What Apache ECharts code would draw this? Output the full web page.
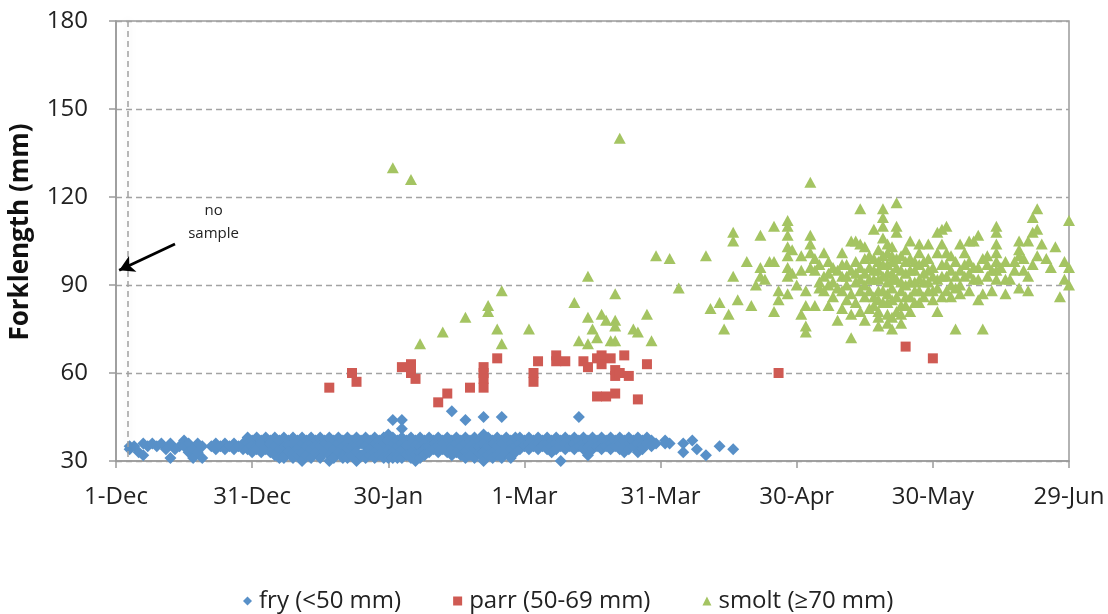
<!DOCTYPE html>
<html><head><meta charset="utf-8">
<script src="https://cdn.jsdelivr.net/npm/echarts@6/dist/echarts.min.js"></script>
<style>html,body{margin:0;padding:0;background:#fff}#chart{width:1108px;height:614px}</style>
</head><body><div id="chart"></div>
<script>
// x = days since 1-Dec
const xTickLabels = ['1-Dec','31-Dec','30-Jan','1-Mar','31-Mar','30-Apr','30-May','29-Jun'];
const yTicks = [30, 60, 90, 120, 150, 180];
const seriesNames = ['fry (<50 mm)', 'parr (50-69 mm)', 'smolt (\u226570 mm)'];

// fry: [day, [forklengths]]
const fryRows = [
 [3,[35,34]],[4,[35]],[5,[33]],[6,[36,32]],[7,[35]],[8,[36]],[9,[35]],[10,[36]],[11,[34]],[12,[36,31]],
 [13,[34]],[14,[35]],[15,[37,35]],[16,[36,33]],[17,[34,31]],[18,[36,33]],[19,[35,31]],
 [21,[35]],[22,[36,34]],[23,[35]],[24,[36,34]],[25,[35]],[26,[36,34]],[27,[35]],[28,[36,34]],
 [29,[38,36,34]],[30,[37,35,33]],[31,[38,35,34]],[32,[37,36,33]],[33,[38,35,34]],[34,[37,36,33]],[35,[38,35,32]],[36,[37,34,31]],
 [37,[38,35,32,31]],[38,[37,35,33]],[39,[38,36,33,31]],[40,[37,34,32]],[41,[38,36,33,30]],[42,[37,35,32]],
 [43,[38,36,34,31]],[44,[37,35,33]],[45,[38,35,32,31]],[46,[37,36,33]],[47,[38,35,32,30]],[48,[37,34,31]],
 [49,[38,36,33]],[50,[37,35,32,31]],[51,[38,36,34,31]],[52,[37,35,32]],[53,[38,35,33,30]],[54,[37,36,32]],
 [55,[38,35,33,31]],[56,[37,34,32]],[57,[38,36,33,31]],[58,[37,35,32]],[59,[38,36,33,31]],[60,[39,37,34,32,31]],
 [61,[38,36,33,31]],[62,[37,35,32,31]],[63,[38,36,34,31]],[64,[37,35,32]],[65,[38,36,33,31]],[66,[37,35,32,30]],
 [67,[38,35,33,31]],[68,[37,36,34,32]],[69,[38,35,33]],[70,[37,36,34]],[71,[38,35,33]],[72,[37,36,34]],
 [73,[38,35,33]],[74,[37,35,34,32]],[75,[38,36,33]],[76,[37,35,32]],[77,[38,36,33,31]],[78,[37,35,32]],
 [79,[38,36,34,31]],[80,[37,35,33]],[81,[39,36,33,31,30]],[82,[38,35,32]],[83,[37,36,33,31]],[84,[38,35,32]],
 [85,[37,36,33,31]],[86,[38,35,33]],[87,[37,36,34,31]],[88,[38,35,33]],
 [89,[38,36,34]],[90,[37,35]],[91,[38,36,34]],[92,[37,35]],[93,[38,36,34]],[94,[37,35]],[95,[38,36,34]],
 [96,[37,35,33]],[97,[38,36,34]],[98,[37,35,30]],[99,[38,36,34]],[100,[37,35]],[101,[38,36,34]],[102,[37,35]],
 [103,[38,36,34]],[104,[37,35,32]],[105,[38,36,34]],[106,[37,35]],[107,[38,36,34]],[108,[37,35]],[109,[38,36,34]],
 [110,[37,35]],[111,[38,36,34]],[112,[37,35,33]],[113,[38,36,34]],[114,[37,35]],[115,[38,36,33]],[116,[37,35,34]],
 [117,[38,36]],[118,[37,35]],[119,[36]],[121,[37,36]],[122,[36]],
 [125,[36,33]],[127,[37]],[128,[34]],[130,[32]],[133,[35]],[136,[34]],
 [61,[44]],[63,[44,41]],[74,[47]],[77,[44]],[81,[45]],[85,[45]],[102,[45]]
];

// parr: [day, forklength]
const parrPoints = [
 [47,55],[52,60],[53,57],[63,62],[65,63],[65,60],[66,58],[71,50],[73,53],[78,55],
 [81,62],[81,60],[81,58],[81,55],[84,65],[92,60],[92,57],[93,64],[97,66],[97,64],
 [99,64],[103,64],[104,62],[106,65],[107,66],[107,63],[109,65],[110,61],[110,59],[111,60],
 [112,66],[113,59],[106,52],[108,52],[110,53],[115,51],[117,63],[146,60],[174,69],[180,65]
];

// smolt: [day, forklength]
const smoltPoints = [
 [61,130],[65,126],[111,140],[67,70],[72,74],[77,79],[82,83],[82,81],[85,88],[84,75],[85,70],[91,75],
 [101,84],[104,93],[104,79],[102,71],[104,70],[105,75],[106,72],[107,80],[108,78],[110,87],[110,78],[110,76],
 [109,71],[110,71],[114,75],[115,74],[117,80],[118,71],[119,100],[122,99],[124,89],
 [130,100],[131,82],[133,84],[134,75],[135,80],[136,108],[136,105],[136,93],[137,85],[139,98],[140,83],[141,90],
 [142,107],[142,96],[142,93],[143,92],[144,98],[145,98],[145,110],[145,81],[146,88],[146,85],
 [148,112],[148,110],[148,107],[148,103],[148,100],[148,96],[148,93],[148,87],[149,102],[149,94],
 [151,100],[151,80],[152,76],[152,74],[152,83],[153,125],[153,107],[153,104],[153,101],[153,96],
 [154,83],[155,91],[155,89],[156,93],[157,98],[157,83],[158,96],[159,78],[160,101],[160,93],[161,85],[162,72],
 [162,105],[163,105],[162,80],[163,98],[164,116],[164,104],[165,103],[165,86],[165,78],[166,96],[167,109],
 [167,92],[168,76],[168,102],[168,98],[168,95],[168,92],[168,88],[168,85],[168,81],
 [169,116],[169,113],[169,110],[169,106],[170,104],[170,101],[170,97],[170,94],[170,91],[170,87],[170,84],[170,80],
 [171,75],[171,103],[171,98],[171,94],[171,89],[171,85],[172,118],[172,110],[172,108],[173,88],[173,83],[173,77],
 [174,102],[174,98],[174,94],[175,105],[175,91],[175,86],[176,98],[176,95],[177,104],[177,84],[177,92],
 [178,98],[179,104],[179,95],[180,88],[180,85],[181,101],[181,108],[182,109],[181,81],[182,97],[182,104],
 [183,110],[183,93],[184,100],[185,75],[185,89],[186,104],[186,95],[187,93],[187,101],[188,105],[188,98],
 [189,92],[189,105],[190,85],[190,107],[191,87],[191,75],[192,97],[192,100],
 [194,110],[194,108],[194,104],[194,101],[194,98],[194,95],[194,92],[196,98],[196,92],[196,87],
 [198,98],[199,102],[199,105],[199,100],[199,89],[200,95],[201,88],[201,105],[202,113],[202,108],[202,97],
 [203,116],[203,109],[204,104],[206,96],[208,86],[209,98],[209,92],[210,112],[210,96],[210,90],
 [155,97],[156,88],[157,90],[158,86],[159,89],[160,82],[161,97],[163,91],[164,88],[165,94],[166,82],
 [167,99],[167,86],[169,93],[172,92],[172,96],[173,100],[174,90],[175,81],[176,88],[177,97],[178,91],
 [179,88],[180,93],[183,97],[184,90],[185,98],[186,87],[188,94],[190,96],[193,88],
 [150,90],[151,95],[152,88],[154,95],[154,99],[156,101],[157,94],[158,91],[159,95],[160,88],[160,97],
 [161,90],[161,93],[162,95],[162,87],[163,84],[163,94],[164,92],[164,96],[164,81],[165,90],[165,99],
 [166,88],[166,92],[166,100],[167,95],[167,83],[168,79],[169,84],[169,88],[169,97],[169,100],[170,77],
 [171,79],[171,92],[171,100],[172,86],[172,81],[172,99],[173,91],[173,95],[173,80],[174,86],[174,83],
 [175,95],[175,99],[176,91],[176,84],[177,88],[177,101],[178,94],[178,86],[179,91],[179,99],[180,96],
 [181,92],[181,89],[182,86],[182,93],[183,88],[183,101],[184,95],[184,86],[185,93],[186,90],[187,97],
 [188,88],[189,96],[190,92],[191,99],[192,93],[193,95],[195,96],[197,92],[198,95],[200,99],[201,93],
 [203,100],[205,99],[207,103]
];

// annotation
const noSampleDay = 2.6;
const noSampleText = 'no\nsample';
const noSampleTextAt = [21.5, 111.5];
const arrowFrom = [13, 104];
const arrowTo = [0.7, 95];

const fryPoints = fryRows.flatMap(([d, vs]) => vs.map(v => [d, v]));

const FONT = '"Open Sans", "Noto Sans", sans-serif';
const colors = ['#5890C8', '#CF5A53', '#A4C462'];
const gridGrey = '#a3a3a3';

const chart = echarts.init(document.getElementById('chart'), null, {renderer: 'canvas'});
chart.setOption({
  animation: false,
  backgroundColor: '#fff',
  textStyle: {fontFamily: FONT},
  grid: {left: 114, right: 39, top: 21, bottom: 153, show: true, borderColor: '#9a9a9a', borderWidth: 1.5},
  legend: {
    data: [
      {name: seriesNames[0], icon: 'diamond'},
      {name: seriesNames[1], icon: 'rect'},
      {name: seriesNames[2], icon: 'triangle'}
    ],
    left: 238, top: 584, itemWidth: 9, itemHeight: 9, itemGap: 52,
    textStyle: {fontSize: 24, color: '#222', fontFamily: FONT, padding: [0,0,0,2]}
  },
  xAxis: {
    type: 'value', min: 0, max: 210, interval: 30,
    axisLine: {show: true, lineStyle: {color: '#9a9a9a', width: 1.5}},
    axisTick: {show: true, inside: false, length: 7, lineStyle: {color: '#9a9a9a', width: 1.5}},
    splitLine: {show: false},
    axisLabel: {margin: 24, fontSize: 24, color: '#222', fontFamily: FONT,
      formatter: v => xTickLabels[Math.round(v / 30)] || ''}
  },
  yAxis: {
    type: 'value', min: yTicks[0], max: yTicks[yTicks.length-1], interval: 30,
    name: 'Forklength (mm)', nameLocation: 'middle', nameGap: 82,
    nameTextStyle: {fontSize: 26, fontWeight: 'bold', color: '#111', fontFamily: FONT, padding: [0,0,0,18]},
    axisLine: {show: true, lineStyle: {color: '#9a9a9a', width: 1.5}},
    axisTick: {show: true, length: 7, lineStyle: {color: '#9a9a9a', width: 1.5}},
    splitLine: {show: true, lineStyle: {color: gridGrey, type: [6, 4], width: 1.4}},
    axisLabel: {margin: 28, fontSize: 24, color: '#222', fontFamily: FONT}
  },
  series: [
    {name: seriesNames[0], type: 'scatter', data: fryPoints, symbol: 'diamond', symbolSize: [12, 12],
     itemStyle: {color: colors[0], opacity: 1}},
    {name: seriesNames[1], type: 'scatter', data: parrPoints, symbol: 'rect', symbolSize: [10, 10],
     itemStyle: {color: colors[1], opacity: 1}},
    {name: seriesNames[2], type: 'scatter', data: smoltPoints, symbol: 'triangle', symbolSize: [12, 11],
     itemStyle: {color: colors[2], opacity: 1}},
    {name: 'annotation', type: 'scatter', data: [], silent: true,
     markLine: {
       silent: true, animation: false,
       data: [
         [{coord: [noSampleDay, 180], symbol: 'none', lineStyle: {color: '#a0a0a0', type: [6, 4], width: 1.5, shadowBlur: 8, shadowColor: 'rgba(0,0,0,0.18)'}},
          {coord: [noSampleDay, 30], symbol: 'none'}],
         [{coord: arrowFrom, symbol: 'none', lineStyle: {color: '#000', type: 'solid', width: 2.8}},
          {coord: arrowTo, symbol: 'arrow', symbolSize: [13, 15]}]
       ],
       label: {show: false}
     },
     markPoint: {
       silent: true,
       data: [{coord: noSampleTextAt, symbol: 'circle', symbolSize: 1, itemStyle: {color: 'rgba(0,0,0,0)'},
         label: {show: true, position: 'inside', formatter: noSampleText, fontSize: 15, lineHeight: 23, color: '#222', fontFamily: FONT}}]
     }
    }
  ]
});
</script>
</body></html>
